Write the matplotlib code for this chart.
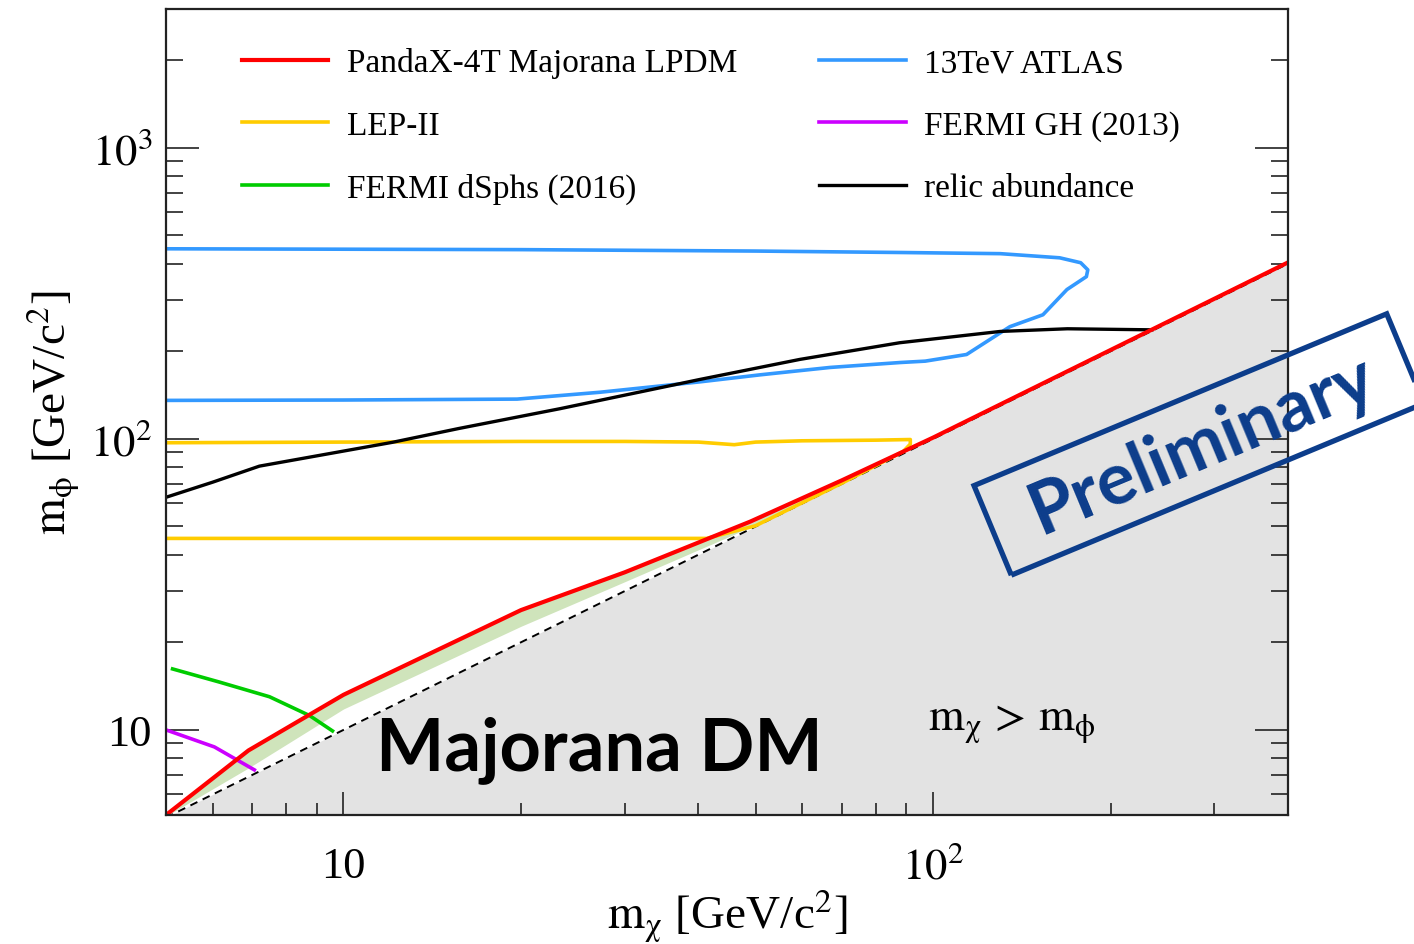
import numpy as np
import matplotlib
matplotlib.use("Agg")
import matplotlib.pyplot as plt
from matplotlib.patches import Rectangle
from matplotlib.ticker import FixedLocator, FixedFormatter, LogLocator, NullFormatter

plt.rcParams['font.family'] = ['Liberation Serif', 'DejaVu Serif']
plt.rcParams['mathtext.fontset'] = 'stix'

# ---- data (m_chi, m_phi) in GeV/c^2 ----
edge_x = [5, 400]

pandax_x = [5, 6.9, 10, 20, 30, 49, 70, 100, 200, 400]
pandax_y = [5.1, 8.5, 13.2, 25.8, 34.8, 52, 72, 101, 202, 404]

band_x = [5, 6.9, 10, 20, 30, 46, 70]
band_lo = [5.05, 7.4, 11.8, 22.7, 32.3, 47.0, 71]
band_hi = [5.1, 8.5, 13.2, 25.8, 34.8, 49.5, 72]

lep_x = [5, 20, 41.3, 50, 70, 89, 91.5, 91.5, 80, 60, 50, 46, 40, 30, 20, 10, 5]
lep_y = [45.5, 45.5, 45.5, 50.3, 70.4, 90.5, 96, 99.5, 99, 98.5, 97.5, 95.5, 97.5, 98, 98, 97.5, 97]

atlas_x = [5, 10, 19.7, 27.2, 40.2, 50.9, 66.9, 88, 97, 114, 135, 153.6,
           168.7, 182, 183, 178, 164, 130, 88, 50, 20, 5]
atlas_y = [135.6, 136, 137, 144.6, 157, 166, 176, 183, 185, 195, 243, 267,
           326, 361, 381, 403, 419, 433, 437, 442, 447, 450]

relic_x = [5, 6, 7.2, 12.1, 15.7, 23.3, 40.2, 59.4, 87.8, 130, 169, 235]
relic_y = [63, 71, 80.6, 97.3, 108.6, 127, 160, 187.5, 214, 234, 239, 237]

dsph_x = [5.13, 6.16, 7.49, 8.76, 9.58]
dsph_y = [16.2, 14.6, 13.0, 11.2, 9.92]

gh_x = [5.0, 6.04, 7.06]
gh_y = [10.0, 8.74, 7.29]

fig = plt.figure(figsize=(14.14, 9.45), dpi=100)
ax = fig.add_axes([0.1174, 0.1365, 0.7935, 0.8529])
ax.set_xscale('log')
ax.set_yscale('log')
ax.set_xlim(5, 400)
ax.set_ylim(5.1, 3000)

# forbidden region m_chi > m_phi
ax.fill_between(edge_x, [1, 1], edge_x, color='#e3e3e3', lw=0, zorder=1)
ax.fill_between(band_x, band_lo, band_hi, color='#cfe4bb', lw=0, zorder=2)
ax.plot(edge_x, edge_x, color='black', lw=1.4, ls=(0, (4, 3)), zorder=3)

ax.plot(lep_x, lep_y, color='#ffcc00', lw=2.6, zorder=4, label='LEP-II')
ax.plot(atlas_x, atlas_y, color='#3399ff', lw=2.6, zorder=4, label='13TeV ATLAS')
ax.plot(dsph_x, dsph_y, color='#00cc00', lw=2.6, zorder=4, label='FERMI dSphs (2016)')
ax.plot(gh_x, gh_y, color='#cc00ff', lw=2.6, zorder=4, label='FERMI GH (2013)')
ax.plot(relic_x, relic_y, color='black', lw=2.4, zorder=4, label='relic abundance')
ax.plot(pandax_x, pandax_y, color='#ff0000', lw=3.0, zorder=5,
        label='PandaX-4T Majorana LPDM')

h, l = ax.get_legend_handles_labels()
order = [5, 0, 2, 1, 3, 4]
ax.legend([h[i] for i in order], [l[i] for i in order], ncol=2, frameon=False,
          loc='upper left', bbox_to_anchor=(0.171, 0.949),
          bbox_transform=fig.transFigure, fontsize=24, borderpad=0,
          borderaxespad=0, handlelength=2.6, handletextpad=0.55,
          columnspacing=2.45, labelspacing=0.96)

# ticks
ax.xaxis.set_major_locator(FixedLocator([10, 100]))
ax.xaxis.set_major_formatter(FixedFormatter(['10', r'$10^{2}$']))
ax.xaxis.set_minor_locator(LogLocator(base=10, subs=np.arange(2, 10)))
ax.xaxis.set_minor_formatter(NullFormatter())
ax.yaxis.set_major_locator(FixedLocator([10, 100, 1000]))
ax.yaxis.set_major_formatter(FixedFormatter(['10', r'$10^{2}$', r'$10^{3}$']))
ax.yaxis.set_minor_locator(LogLocator(base=10, subs=np.arange(2, 10)))
ax.yaxis.set_minor_formatter(NullFormatter())

ax.tick_params(axis='both', which='both', direction='in', color='#222222',
               width=1.2, labelsize=32)
ax.tick_params(axis='x', which='major', length=16.5, pad=22)
ax.tick_params(axis='x', which='minor', length=8.6)
ax.tick_params(axis='y', which='major', length=24, pad=10, right=True)
ax.tick_params(axis='y', which='minor', length=12, right=True)
for s in ax.spines.values():
    s.set_linewidth(1.6)
    s.set_color('#222222')
    s.set_zorder(6)

ax.set_xlabel(r'$\mathrm{m}_{\mathrm{\chi}}$ [GeV/c$^{2}$]', fontsize=34, labelpad=0)
ax.set_ylabel(r'$\mathrm{m}_{\mathrm{\phi}}$ [GeV/c$^{2}$]', fontsize=34, labelpad=6)

ax.text(0.386, 0.082, 'Majorana DM', transform=ax.transAxes, fontsize=52,
        fontweight='bold', family=['Lato', 'DejaVu Sans'], ha='center',
        va='center', zorder=7)
ax.text(0.754, 0.115, r'$\mathrm{m}_{\mathrm{\chi}}\,>\,\mathrm{m}_{\mathrm{\phi}}$',
        transform=ax.transAxes, fontsize=33, ha='center', va='center', zorder=7)

# stamp
blue = '#0c3d8b'
cx, cy, w, hgt, ang = 11.99, 4.995, 4.47, 0.97, 22.6
fig.add_artist(Rectangle((cx - w / 2, cy - hgt / 2), w, hgt, angle=ang,
                         rotation_point='center', transform=fig.dpi_scale_trans,
                         fill=False, ec=blue, lw=3.8, clip_on=False, zorder=8))
fig.text(cx + 0.03, cy, 'Preliminary', transform=fig.dpi_scale_trans, rotation=ang,
         rotation_mode='anchor', ha='center', va='center', fontsize=52,
         fontweight='bold', family=['Lato', 'DejaVu Sans'], color=blue, zorder=8)

fig.savefig('out.png', dpi=100)
